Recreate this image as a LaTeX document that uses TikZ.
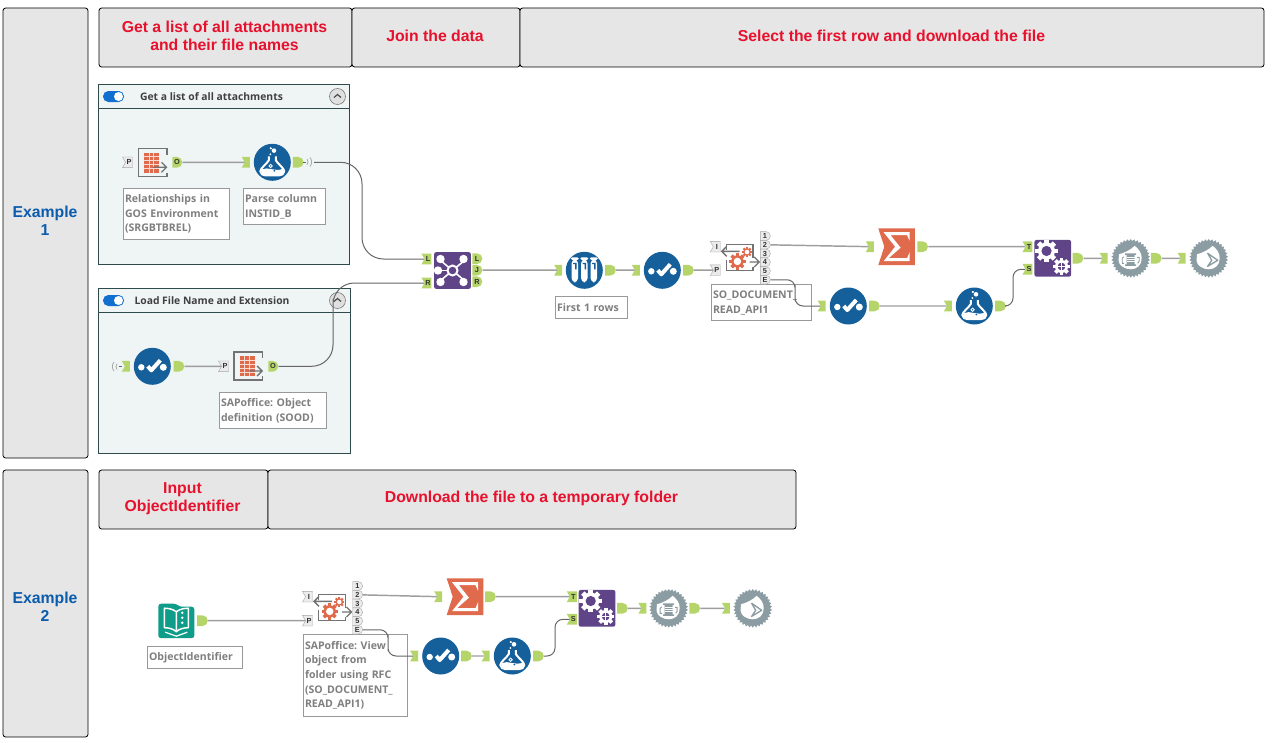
\documentclass[tikz,border=0pt]{standalone}
\usepackage{fontspec}
\setmainfont{Liberation Sans}
\newfontfamily\toolfont{Open Sans}
\usepackage{xcolor}
\usetikzlibrary{positioning, calc, shapes.misc, shapes.symbols, shapes.geometric}
\frenchspacing

\definecolor{panelgray}{HTML}{E6E6E6}
\definecolor{headred}{HTML}{E8112D}
\definecolor{headblue}{HTML}{0B5CAD}
\definecolor{boxback}{HTML}{EFF4F5}
\definecolor{boxline}{HTML}{2F4A4A}
\definecolor{portgreen}{HTML}{B5D56A}
\definecolor{toolblue}{HTML}{155F9B}
\definecolor{toolpurple}{HTML}{5F4488}
\definecolor{toolorange}{HTML}{DF6A4C}
\definecolor{toolteal}{HTML}{0F9D8A}
\definecolor{toolgray}{HTML}{8B9DA2}
\definecolor{labelgray}{HTML}{7F7F7F}
\definecolor{toggleblue}{HTML}{1170CF}

\tikzset{
  panel/.style={draw=black, fill=panelgray, rounded corners=2pt, line width=0.6pt},
  headtext/.style={text=headred, font=\fontsize{11.85}{13.5}\selectfont\bfseries, align=center},
  sidetext/.style={text=headblue, font=\fontsize{11.85}{13.5}\selectfont\bfseries, align=center},
  titletext/.style={text=black!75, font=\toolfont\fontsize{7.75}{9}\selectfont\bfseries},
  container/.style={draw=boxline, fill=boxback, line width=0.6pt},
  caption/.style={draw=gray!80, fill=white, line width=0.6pt, text=labelgray, anchor=north west,
    text width=#1, inner xsep=1pt, inner ysep=1pt, align=left,
    font=\toolfont\fontsize{7.9}{11}\selectfont\bfseries},
  outport/.style={shape=rounded rectangle, rounded rectangle left arc=none, fill=portgreen,
    minimum width=6pt, minimum height=8pt, inner sep=0pt,
    font=\fontsize{5.5}{5.5}\selectfont\bfseries, text=black!80},
  inport/.style={shape=signal, signal to=nowhere, signal from=west, signal pointer angle=120,
    fill=portgreen, minimum width=6pt, minimum height=8pt, inner sep=0pt,
    font=\fontsize{5.5}{5.5}\selectfont\bfseries, text=black!80},
  graytag/.style={inport, fill=black!8, draw=gray!70, line width=0.3pt},
  stackport/.style={shape=rounded rectangle, rounded rectangle left arc=none, fill=black!8, draw=gray!70,
    line width=0.3pt, minimum width=7.5pt, minimum height=6.6pt, inner sep=0pt,
    font=\fontsize{5.5}{5.5}\selectfont\bfseries, text=black!80},
  roundtool/.style={circle, fill=toolblue, minimum size=27.75pt, inner sep=0pt},
  squaretool/.style={fill=toolpurple, rounded corners=1.5pt, minimum size=27.5pt, inner sep=0pt},
  geartool/.style={star, star points=34, star point ratio=1.12, fill=toolgray, minimum size=29pt, inner sep=0pt},
  wire/.style={draw=black!38, line width=1.1pt},
  bentwire/.style={draw=black!60, line width=0.75pt, rounded corners=#1},
  bentwire/.default=6pt,
  pics/gearwheel/.style args={#1 and #2 with #3}{code={
    \foreach \a in {0,45,...,315} {
      \fill[#2, rotate=\a] (-#1*0.28,0) rectangle (#1*0.28,-#1*1.32);
    }
    \fill[#2] (0,0) circle (#1);
    \fill[#3] (0,0) circle (#1*0.6);
  }},
  pics/flask/.style={code={
    \draw[white, line width=1.5pt, line join=round] (-3.5,-6) -- (-3.5,-2) .. controls (-5,1) and (-12,6) .. (-12,9)
      .. controls (-12,12) and (-9,13) .. (-7,13) -- (7,13) .. controls (9,13) and (12,12) .. (12,9)
      .. controls (12,6) and (5,1) .. (3.5,-2) -- (3.5,-6);
    \fill[white] (-10.5,7) .. controls (-4,4) and (3,10) .. (10.5,6.5) .. controls (12,9) and (10,13) .. (7,13) -- (-7,13) .. controls (-10,13) and (-12,10) .. cycle;
    \draw[white, line width=0.7pt] (-1.7,3.7) circle (1.6);
    \fill[white] (1.7,-11.7) circle (2.3) (-1.5,-14) circle (1.2) (-2,-8) circle (1);
    \fill[toolblue] (2,8.5) circle (1);
  }},
  pics/check/.style={code={
    \fill[white] (-11,1) circle (3.2) (11,1) circle (3.5);
    \draw[white, line width=3pt, line join=round] (-4.5,0) -- (-1,4) -- (8,-6);
  }},
  pics/sample/.style={code={
    \foreach \x in {-9.5,0,9.5} {
      \fill[white, rounded corners=1pt] (\x-4,-13) rectangle (\x+4,-10.5);
      \fill[white, rounded corners=3pt] (\x-3.2,-11) rectangle (\x+3.2,12);
      \fill[toolblue] (\x-1.7,-7.5) rectangle (\x+1.7,-6.3) (\x+0.4,-6.3) rectangle (\x+1.7,-1);
    }
  }},
  pics/joinglyph/.style={code={
    \foreach \a in {40,140,220,320} {\draw[white, line width=1.2pt] (0,0) -- (\a:15);}
    \draw[white, line width=1.2pt] (0,0) -- (-15,0);
    \fill[white] (-12,-11.5) circle (4.2) (11,-11.5) circle (4.2) (-14.5,0) circle (4.2) (-12,11.5) circle (4.2) (11,11.5) circle (4.2);
    \filldraw[draw=white, fill=toolpurple, line width=1.5pt] (0,0) circle (5);
  }},
  pics/formulaglyph/.style={code={
    \pic at (-6.3,-7.3) {gearwheel=8.5 and white with toolpurple};
    \pic at (8.7,8.2) {gearwheel=6.5 and white with toolpurple};
    \draw[white, line width=1pt] (4.5,8.2) -- (12.9,8.2) (8.7,4) -- (8.7,12.4);
  }},
  pics/framedtable/.style={code={
    \draw[black!55, line width=1.1pt] (14,-8) -- (14,-14) -- (-14.5,-14) -- (-14.5,14) -- (14,14) -- (14,10);
    \fill[toolorange] (-8.7,-10) rectangle (6,10);
    \foreach \x in {-4,0.5} {\draw[white!75!toolorange, line width=0.3pt] (\x,-10) -- (\x,10);}
    \foreach \y in {-6,-2,...,6} {\draw[white!75!toolorange, line width=0.3pt] (-8.7,\y) -- (6,\y);}
    \draw[black!55, line width=1pt] (0,4.8) -- (13.5,4.8) (8.5,-0.2) -- (13.5,4.8) -- (8.5,9.8);
  }},
  pics/framedapi/.style={code={
    \draw[black!55, line width=1.1pt] (-13.3,-8) -- (-13.3,-13) -- (13.3,-13) -- (13.3,0);
    \draw[black!55, line width=1.1pt] (-13.3,2) -- (-13.3,13) -- (13.3,13) -- (13.3,9);
    \draw[black!55, line width=1pt] (0,-6.3) -- (-18,-6.3) (-13,-11.3) -- (-18,-6.3) -- (-13,-1.3);
    \draw[black!55, line width=1pt] (10,4.3) -- (19.5,4.3) (14.5,-0.7) -- (19.5,4.3) -- (14.5,9.3);
    \pic at (-2.3,3.7) {gearwheel=6.2 and toolorange with white};
    \pic at (7.3,-5.7) {gearwheel=3.8 and toolorange with white};
  }},
  pics/sigmaglyph/.style={code={
    \fill[toolorange] (-18.3,-18.3) -- (18.3,-18.3) -- (18.3,18.3) -- (-18.3,18.3) -- (-12.3,0) -- cycle;
    \fill[white] (-13,-14.5) -- (13,-14.5) -- (13,-6) -- (10.5,-11.5) -- (-6,-11.5) -- (4,1) -- (-8,11.5)
      -- (10.5,11.5) -- (13,5.5) -- (13,14.5) -- (-13,14.5) -- (-1.5,0) -- cycle;
  }},
  pics/blob/.style={code={
    \fill[white] (-11.7,-4) .. controls (-6,-5.5) and (0,-8.5) .. (4,-12.5)
      .. controls (8,-9) and (11,-6) .. (11,0) .. controls (11,7) and (6,11) .. (0,11) .. controls (-6,11) and (-11.7,7) .. (-12,3)
      .. controls (-12,0) and (-12,-2) .. cycle;
  }},
  pics/spoolglyph/.style={code={
    \pic {blob};
    \fill[toolgray] (-5.5,-5) rectangle (5.5,-3.4) (-5.5,6) rectangle (5.5,7.6) (-4,-3.4) rectangle (4,6);
    \foreach \y in {-1.4,0.8,3} {\draw[white, line width=0.4pt] (-4,\y) -- (4,\y);}
    \draw[toolgray, line width=0.7pt] (-6.5,5) -- (-8.5,5) -- (-8.5,0) -- (-7,-1.5);
    \draw[toolgray, line width=0.7pt] (6.5,-1) -- (8.5,-1) -- (8.5,3) -- (7,5);
  }},
  pics/sendglyph/.style={code={
    \pic {blob};
    \draw[toolgray, line width=1pt, line join=round] (-1,-5) -- (9,2) -- (-1,8) -- (3,2) -- cycle;
  }},
  pics/bookglyph/.style={code={
    \fill[toolteal, rounded corners=2pt] (-18,-17) -- (0,-17) -- (3,-14) -- (18,-14) -- (18,17.5) -- (-18,17.5) -- cycle;
    \draw[white, line width=1.1pt, line join=round] (0,-9) .. controls (-4,-12) and (-9,-12.5) .. (-12,-12.5) -- (-12,7)
      .. controls (-8,7) and (-3,8) .. (0,11) .. controls (3,8) and (8,7) .. (12,7) -- (12,-12.5) .. controls (9,-12.5) and (4,-12) .. (0,-9) -- (0,11);
    \draw[white, line width=0.9pt] (-11,11.5) -- (0,15.5) -- (11,11.5);
    \fill[white] (6,-8) circle (1.4) (6,-3) circle (1.4) (6,2) circle (1.4);
  }},
}

\begin{document}
\begin{tikzpicture}[x=0.75pt, y=-0.75pt]
  \useasboundingbox (0,0) rectangle (1273,742);

  % Side panels and headers
  \draw[panel] (3,8) rectangle (88,458);
  \draw[panel] (3,470) rectangle (88,737);
  \node[sidetext] (exampleone) at (45,221) {Example\\1};
  \node[sidetext] (exampletwo) at (45,607) {Example\\2};

  \draw[panel] (99,8) rectangle (352,67);
  \draw[panel] (352,8) rectangle (520,67);
  \draw[panel] (520,8) rectangle (1264,67);
  \draw[panel] (99,470) rectangle (268,529);
  \draw[panel] (268,470) rectangle (796,529);
  \node[headtext] (headlist) at (224.5,35.5) {Get a list of all attachments\\and their file names};
  \node[headtext] (headjoin) at (435,36) {Join the data};
  \node[headtext] (headfirst) at (891.5,36) {Select the first row and download the file};
  \node[headtext] (headinput) at (182.5,498.5) {Input\\ObjectIdentifier};
  \node[headtext] (headtemp) at (531.5,498.5) {Download the file to a temporary folder};

  % Containers
  \draw[container] (98.5,84.5) rectangle (349,264);
  \draw[container] (98.5,108) -- (349,108);
  \draw[container] (98.5,288.5) rectangle (350.5,453);
  \draw[container] (98.5,312) -- (350.5,312);
  \foreach \y in {96.5,300.5} {
    \fill[toggleblue, rounded corners=4pt] (103,\y-5.5) rectangle (124,\y+5.5);
    \fill[white] (118.5,\y) circle (4.5);
    \filldraw[draw=black!50, fill=black!12, line width=0.5pt] (337.5,\y) circle (8);
    \draw[black!70, line width=0.9pt] (334,\y+1) -- (337.5,\y-2) -- (341,\y+1);
  }
  \node[titletext] (titlelist) at (211.5,96.8) {Get a list of all attachments};
  \node[titletext] (titleload) at (212,300.8) {Load File Name and Extension};

  % Captions
  \node[caption=77pt, minimum height=38pt] (capgos) at (123.3,188.3) {Relationships in\\GOS Environment\\(SRGBTBREL)};
  \node[caption=59pt, minimum height=27pt] (capparse) at (243.3,188.3) {Parse column\\INSTID\_B};
  \node[caption=78pt, minimum height=27pt] (capsood) at (219.3,392.3) {SAPoffice: Object\\definition (SOOD)};
  \node[caption=51.5pt, minimum height=16pt] (capfirst) at (555.3,296.3) {First 1 rows};
  \node[caption=73pt, minimum height=27pt] (capdoc) at (711.3,284.3) {SO\_DOCUMENT\_\\READ\_API1};
  \node[caption=69pt, minimum height=16pt] (capobject) at (147.3,646.3) {ObjectIdentifier};
  \node[caption=76pt, minimum height=61pt] (capview) at (303.3,634.3) {SAPoffice: View\\object from\\folder using RFC\\(SO\_DOCUMENT\_\\READ\_API1)};

  % Container one
  \node[graytag, minimum width=7.5pt] (tagp) at (129,162.3) {P};
  \pic at (153,162.5) {framedtable};
  \node[outport, minimum width=7.5pt] (tableout) at (177,162.3) {O};
  \node[inport] (flaskin) at (247.3,162.3) {};
  \node[roundtool] (flaskone) at (272.3,162.3) {};
  \pic at (flaskone) {flask};
  \node[outport] (flaskout) at (298.3,162.3) {};
  \draw[black!60, line width=0.7pt] (303,162.3) -- (306,162.3);
  \draw[black!35, line width=0.6pt] (307,159) arc (-40:40:4.5) (310,157.5) arc (-40:40:7);
  \coordinate (flaskcast) at (314,162.3);
  \coordinate (bendone) at (362,210);

  % Container two
  \draw[black!60, line width=0.7pt] (118.5,366.3) -- (121.5,366.3);
  \draw[black!35, line width=0.6pt] (117,369.5) arc (140:220:4.5) (114,371) arc (140:220:7);
  \node[inport] (checkin) at (127.3,366.3) {};
  \node[roundtool] (checkone) at (152.3,366.3) {};
  \pic at (checkone) {check};
  \node[outport] (checkout) at (179,366.3) {};
  \node[graytag, minimum width=7.5pt] (tagq) at (225,366.3) {P};
  \pic at (248.6,366.2) {framedtable};
  \node[outport, minimum width=7.5pt] (tableouttwo) at (273,366.3) {O};
  \coordinate (bendtwo) at (333,320);

  % Main flow of example 1
  \node[squaretool] (joinbox) at (452.5,270.5) {};
  \pic at (joinbox) {joinglyph};
  \node[inport, minimum width=7.5pt] (joinl) at (428,259) {L};
  \node[inport, minimum width=7.5pt] (joinr) at (428,283) {R};
  \node[outport, minimum width=7.5pt] (outl) at (477,258.7) {L};
  \node[outport, minimum width=7.5pt] (outj) at (477,270.2) {J};
  \node[outport, minimum width=7.5pt] (outr) at (477,281.7) {R};

  \node[inport] (samplein) at (559.7,270.2) {};
  \node[roundtool] (sampletool) at (584.3,270.3) {};
  \pic at (sampletool) {sample};
  \node[outport] (sampleout) at (610.5,270.2) {};
  \node[inport] (checktwoin) at (637.3,270.2) {};
  \node[roundtool] (checktwo) at (662.3,270.3) {};
  \pic at (checktwo) {check};
  \node[outport] (checktwoout) at (688.5,270.2) {};

  \node[graytag, minimum width=7.5pt] (apip) at (716.8,270.2) {P};
  \node[graytag, minimum width=7.5pt] (apii) at (716.8,246.7) {I};
  \pic at (739.7,257.7) {framedapi};
  \foreach \n/\t [count=\i from 0] in {a/1,b/2,c/3,d/4,e/5,f/E} {
    \node[stackport] (stack\n) at (765,236+8.75*\i) {\t};
  }

  \node[inport] (sigmain) at (871.3,246.7) {};
  \pic at (896.6,246.7) {sigmaglyph};
  \node[outport] (sigmaout) at (922.7,246.7) {};

  \node[inport] (checkthreein) at (823.2,306) {};
  \node[roundtool] (checkthree) at (848.3,306) {};
  \pic at (checkthree) {check};
  \node[outport] (checkthreeout) at (874.5,306) {};
  \node[inport] (flasktwoin) at (949.4,306) {};
  \node[roundtool] (flasktwo) at (974.3,306) {};
  \pic at (flasktwo) {flask};
  \node[outport] (flasktwoout) at (1000.5,306) {};
  \coordinate (bendthree) at (795,293);
  \coordinate (bendfour) at (1013,288);

  \node[inport, minimum width=7.5pt] (portt) at (1029,246.7) {T};
  \node[inport, minimum width=7.5pt] (ports) at (1029,269.3) {S};
  \node[squaretool] (formulatool) at (1052.8,258.3) {};
  \pic at (formulatool) {formulaglyph};
  \node[outport] (formulaout) at (1078,258.3) {};

  \node[inport] (spoolin) at (1105.2,258.3) {};
  \node[geartool] (spooltool) at (1130.7,258.3) {};
  \pic at (spooltool) {spoolglyph};
  \node[outport] (spoolout) at (1156.3,258.3) {};
  \node[inport] (sendin) at (1183.2,258.3) {};
  \node[geartool] (sendtool) at (1208.7,258.3) {};
  \pic at (sendtool) {sendglyph};

  % Main flow of example 2
  \pic at (176.3,620.7) {bookglyph};
  \node[outport] (bookout) at (202.5,620.7) {};

  \node[graytag, minimum width=7.5pt] (apiptwo) at (309,620.7) {P};
  \node[graytag, minimum width=7.5pt] (apiitwo) at (309,596.7) {I};
  \pic at (332,607.7) {framedapi};
  \foreach \n/\t [count=\i from 0] in {a/1,b/2,c/3,d/4,e/5,f/E} {
    \node[stackport] (stacktwo\n) at (357.3,586+8.75*\i) {\t};
  }

  \node[inport] (sigmatwoin) at (439.7,596.7) {};
  \pic at (465,596.7) {sigmaglyph};
  \node[outport] (sigmatwoout) at (490.5,596.7) {};

  \node[inport] (checkfourin) at (415.7,656) {};
  \node[roundtool] (checkfour) at (440.7,656) {};
  \pic at (checkfour) {check};
  \node[outport] (checkfourout) at (466.5,656) {};
  \node[inport] (flaskthreein) at (487.2,656) {};
  \node[roundtool] (flaskthree) at (512.3,656) {};
  \pic at (flaskthree) {flask};
  \node[outport] (flaskthreeout) at (538.5,656) {};
  \coordinate (bendfive) at (388,643);
  \coordinate (bendsix) at (555,638);

  \node[inport, minimum width=7.5pt] (porttwot) at (573.3,596.7) {T};
  \node[inport, minimum width=7.5pt] (porttwos) at (573.3,619.3) {S};
  \node[squaretool] (formulatwo) at (597,608.3) {};
  \pic at (formulatwo) {formulaglyph};
  \node[outport] (formulatwoout) at (622.5,608.3) {};

  \node[inport] (spooltwoin) at (643.9,608.3) {};
  \node[geartool] (spooltwo) at (668.7,608.3) {};
  \pic at (spooltwo) {spoolglyph};
  \node[outport] (spooltwoout) at (694.8,608.3) {};
  \node[inport] (sendtwoin) at (727.5,608.3) {};
  \node[geartool] (sendtwo) at (752.7,608.3) {};
  \pic at (sendtwo) {sendglyph};

  % Connectors
  \draw[wire] (tableout) -- (flaskin);
  \draw[wire] (checkout) -- (tagq);
  \draw[bentwire=16pt] (flaskcast) -| (bendone) |- (joinl);
  \draw[bentwire=16pt] (tableouttwo) -| (bendtwo) |- (joinr);
  \draw[wire] (outj) -- (samplein);
  \draw[wire] (sampleout) -- (checktwoin);
  \draw[wire] (checktwoout) -- (apip);
  \draw[wire] (stackb) -- (sigmain);
  \draw[wire] (sigmaout) -- (portt);
  \draw[bentwire] (stackf) -| (bendthree) |- (checkthreein);
  \draw[wire] (checkthreeout) -- (flasktwoin);
  \draw[bentwire] (flasktwoout) -| (bendfour) |- (ports);
  \draw[wire] (formulaout) -- (spoolin);
  \draw[wire] (spoolout) -- (sendin);

  \draw[wire] (bookout) -- (apiptwo);
  \draw[wire] (stacktwob) -- (sigmatwoin);
  \draw[wire] (sigmatwoout) -- (porttwot);
  \draw[bentwire] (stacktwof) -| (bendfive) |- (checkfourin);
  \draw[wire] (checkfourout) -- (flaskthreein);
  \draw[bentwire] (flaskthreeout) -| (bendsix) |- (porttwos);
  \draw[wire] (formulatwoout) -- (spooltwoin);
  \draw[wire] (spooltwoout) -- (sendtwoin);
\end{tikzpicture}
\end{document}
